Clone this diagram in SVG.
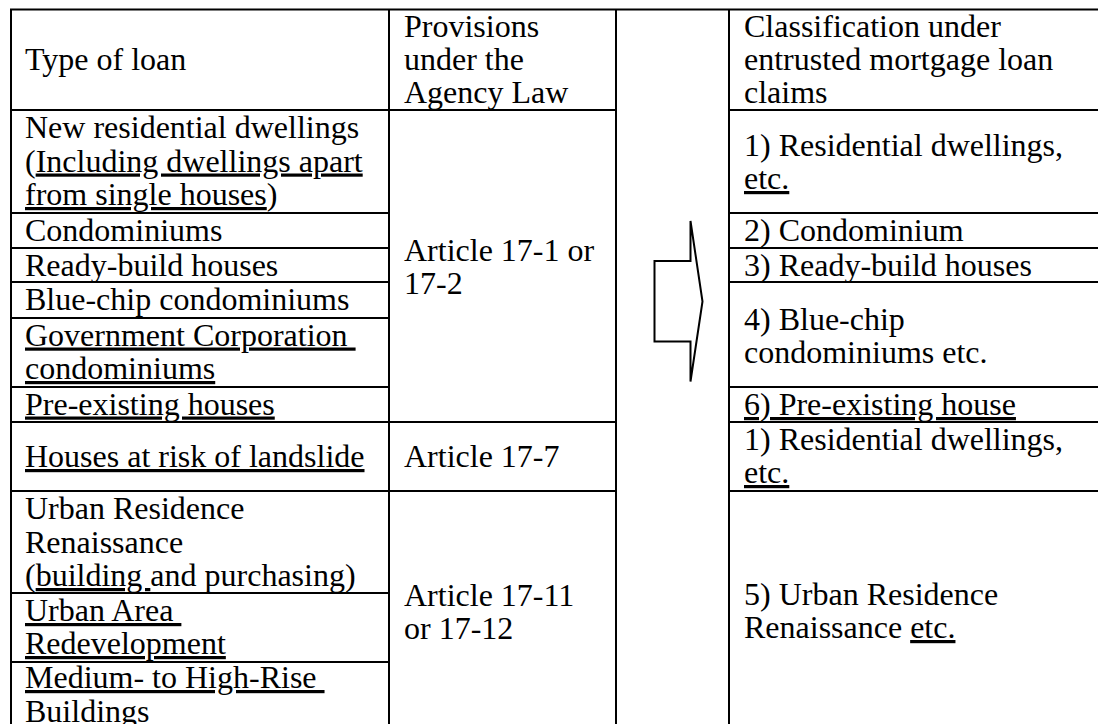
<svg xmlns="http://www.w3.org/2000/svg" width="1098" height="724" viewBox="0 0 1098 724">
<style>
text{font-family:"Liberation Serif","Times New Roman","DejaVu Serif",serif;font-size:32px;fill:#000;white-space:pre}
.u{text-decoration:underline}
.g{stroke:#000;stroke-width:2;fill:none;stroke-linecap:square}
.arrow{stroke:#000;stroke-width:2;fill:#fff;stroke-linejoin:miter}
</style>
<rect width="1098" height="724" fill="#fff"/>
<g id="grid" class="g">
<path d="M11,9.5 H1110 M11,9.5 V740 M389,9.5 V740 M616,9.5 V740 M729,9.5 V740"/>
<path d="M11,110 H616 M11,213 H389 M11,248 H389 M11,282 H389 M11,318 H389 M11,387 H389 M11,422 H616 M11,491 H616 M11,593 H389 M11,662 H389"/>
<path d="M729,110 H1110 M729,213 H1110 M729,248 H1110 M729,282 H1110 M729,387 H1110 M729,422 H1110 M729,491 H1110"/>
</g>
<g id="connectors">
<polygon class="arrow" points="654.5,261 690.5,261 690.5,221 702.5,301.5 690.5,381.5 690.5,341.5 654.5,341.5"/>
</g>
<g id="h-type"><text x="25" y="70">Type of loan</text></g>
<g id="h-prov"><text x="404" y="37">Provisions</text><text x="404" y="70">under the</text><text x="404" y="103">Agency Law</text></g>
<g id="h-class"><text x="744" y="37">Classification under</text><text x="744" y="70">entrusted mortgage loan</text><text x="744" y="103">claims</text></g>
<g id="l-new"><text x="25" y="138">New residential dwellings</text><text x="25" y="171.5" xml:space="preserve">(<tspan class="u">Including dwellings apart</tspan></text><text x="25" y="205"><tspan class="u">from single houses</tspan>)</text></g>
<g id="l-condo"><text x="25" y="241">Condominiums</text></g>
<g id="l-ready"><text x="25" y="275.5">Ready-build houses</text></g>
<g id="l-blue"><text x="25" y="310">Blue-chip condominiums</text></g>
<g id="l-gov"><text x="25" y="345.5" xml:space="preserve"><tspan class="u">Government Corporation </tspan></text><text x="25" y="379"><tspan class="u">condominiums</tspan></text></g>
<g id="l-pre"><text x="25" y="414.5"><tspan class="u">Pre-existing houses</tspan></text></g>
<g id="l-land"><text x="25" y="467"><tspan class="u">Houses at risk of landslide</tspan></text></g>
<g id="l-urban"><text x="25" y="519">Urban Residence</text><text x="25" y="552.5">Renaissance</text><text x="25" y="586" xml:space="preserve">(<tspan class="u">building </tspan>and purchasing)</text></g>
<g id="l-area"><text x="25" y="621" xml:space="preserve"><tspan class="u">Urban Area </tspan></text><text x="25" y="654"><tspan class="u">Redevelopment</tspan></text></g>
<g id="l-med"><text x="25" y="688" xml:space="preserve"><tspan class="u">Medium- to High-Rise </tspan></text><text x="25" y="721.5">Buildings</text></g>
<g id="p-17-1"><text x="404" y="261">Article 17-1 or</text><text x="404" y="294">17-2</text></g>
<g id="p-17-7"><text x="404" y="467">Article 17-7</text></g>
<g id="p-17-11"><text x="404" y="606">Article 17-11</text><text x="404" y="639">or 17-12</text></g>
<g id="c-1a"><text x="744" y="156">1) Residential dwellings,</text><text x="744" y="189"><tspan class="u">etc.</tspan></text></g>
<g id="c-2"><text x="744" y="241">2) Condominium</text></g>
<g id="c-3"><text x="744" y="275.5">3) Ready-build houses</text></g>
<g id="c-4"><text x="744" y="330">4) Blue-chip</text><text x="744" y="363">condominiums etc.</text></g>
<g id="c-6"><text x="744" y="415"><tspan class="u">6) Pre-existing house</tspan></text></g>
<g id="c-1b"><text x="744" y="450">1) Residential dwellings,</text><text x="744" y="483"><tspan class="u">etc.</tspan></text></g>
<g id="c-5"><text x="744" y="605">5) Urban Residence</text><text x="744" y="638">Renaissance <tspan class="u">etc.</tspan></text></g>
</svg>
